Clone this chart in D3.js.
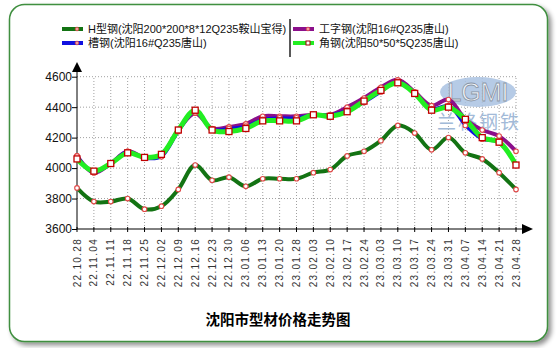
<!DOCTYPE html>
<html><head><meta charset="utf-8">
<script src="https://cdn.jsdelivr.net/npm/d3@7"></script>
<style>body{margin:0;background:#fff;}svg{display:block;}</style>
</head><body>
<svg id="c" width="557" height="348"></svg>
<script>
const categories = ["22.10.28","22.11.04","22.11.11","22.11.18","22.11.25","22.12.02","22.12.09","22.12.16","22.12.23","22.12.30","23.01.06","23.01.13","23.01.20","23.01.28","23.02.03","23.02.10","23.02.17","23.02.24","23.03.03","23.03.10","23.03.17","23.03.24","23.03.31","23.04.07","23.04.14","23.04.21","23.04.28"];
const hBeam   = [3870,3780,3780,3800,3730,3750,3860,4020,3920,3940,3880,3930,3930,3930,3970,3990,4080,4110,4180,4280,4230,4120,4200,4100,4060,3970,3860];
const iBeam   = [4080,3970,4030,4110,4070,4090,4250,4360,4260,4270,4290,4340,4340,4340,4350,4350,4400,4460,4530,4580,4500,4410,4450,4320,4250,4210,4110];
const channel = [4080,3970,4030,4110,4065,4075,4240,4370,4255,4260,4275,4320,4330,4330,4350,4350,4380,4430,4500,4570,4490,4390,4410,4280,4190,4170,4020];
const angle   = [4060,3980,4030,4100,4070,4090,4250,4380,4250,4240,4260,4310,4310,4310,4350,4340,4370,4440,4510,4560,4490,4380,4400,4320,4200,4170,4020];
const yTicks = [3600,3800,4000,4200,4400,4600];
const seriesNames = ["H型钢(沈阳200*200*8*12Q235鞍山宝得)","槽钢(沈阳16#Q235唐山)","工字钢(沈阳16#Q235唐山)","角钢(沈阳50*50*5Q235唐山)"];
const title = "沈阳市型材价格走势图";

const svg = d3.select("#c");
const font = "'Liberation Sans', Arial, 'Noto Sans CJK SC', sans-serif";

// frame with shadow
const defs = svg.append("defs");
const f = defs.append("filter").attr("id","sh").attr("x","-5%").attr("y","-5%").attr("width","115%").attr("height","115%");
f.append("feGaussianBlur").attr("in","SourceAlpha").attr("stdDeviation",2.5);
f.append("feOffset").attr("dx",3).attr("dy",3).attr("result","o");
f.append("feComponentTransfer").append("feFuncA").attr("type","linear").attr("slope",0.45);
const fm = f.append("feMerge"); fm.append("feMergeNode"); fm.append("feMergeNode").attr("in","SourceGraphic");
svg.append("rect").attr("x",9.5).attr("y",4.5).attr("width",538).attr("height",337).attr("rx",15).attr("ry",15)
  .attr("fill","#fff").attr("stroke","#3f8f3f").attr("stroke-width",1.5).attr("filter","url(#sh)");

const x = d3.scalePoint().domain(categories).range([77,516]);
const y = d3.scaleLinear().domain([3600,4600]).range([229,76.7]);

// grid
const g = svg.append("g");
g.selectAll(".vg").data(categories.slice(1)).join("line")
  .attr("x1",d=>x(d)).attr("x2",d=>x(d)).attr("y1",y(3600)).attr("y2",y(4600))
  .attr("stroke","#a0a0a0").attr("stroke-dasharray","1,2").attr("stroke-width",1);
g.selectAll(".hg").data(yTicks.slice(1)).join("line")
  .attr("x1",x(categories[0])).attr("x2",x(categories[categories.length-1])).attr("y1",d=>y(d)).attr("y2",d=>y(d))
  .attr("stroke","#a0a0a0").attr("stroke-dasharray","1,2").attr("stroke-width",1);

// watermark
const wm = svg.append("g");
wm.append("ellipse").attr("cx",478).attr("cy",92).attr("rx",38).attr("ry",15).attr("fill","#a9c2e2").attr("opacity",0.85);
wm.append("text").attr("x",478).attr("y",101).attr("text-anchor","middle").attr("font-family",font)
  .attr("font-size",25).attr("fill","#f2f4f8").attr("stroke","#8a96a6").attr("stroke-width",0.8).text("LGMI");
wm.append("text").attr("x",479).attr("y",129).attr("text-anchor","middle").attr("font-family","'Noto Sans CJK SC'")
  .attr("font-size",19).attr("fill","#a2bad8").attr("letter-spacing",2).text("兰格钢铁");

// axes
const xAxis = d3.axisBottom(x).tickSize(0).tickFormat("");
const ax = svg.append("g").attr("transform",`translate(0,${y(3600)})`).call(xAxis);
ax.select(".domain").remove();
ax.selectAll(".tk").data(categories).join("line").attr("x1",d=>x(d)).attr("x2",d=>x(d)).attr("y1",-2).attr("y2",3).attr("stroke","#000");
ax.append("line").attr("x1",77).attr("x2",524).attr("y1",0).attr("y2",0).attr("stroke","#000");
ax.append("path").attr("d","M522,-5L533,0L522,5Z").attr("fill","#000");
ax.selectAll(".xl").data(categories).join("text")
  .attr("transform",d=>`translate(${x(d)+3.5},9) rotate(-90)`)
  .attr("text-anchor","end").attr("font-family",font).attr("font-size",10).attr("letter-spacing",1.3)
  .attr("fill","#333").text(d=>d);

const yAxis = d3.axisLeft(y).tickValues(yTicks).tickSize(5).tickFormat(d3.format("d"));
const ay = svg.append("g").attr("transform","translate(77,0)").call(yAxis);
ay.select(".domain").remove();
ay.selectAll("text").attr("font-family",font).attr("font-size",12).attr("fill","#111").attr("x",-5);
ay.append("line").attr("x1",0).attr("x2",0).attr("y1",y(3600)).attr("y2",70).attr("stroke","#000");
ay.append("path").attr("d","M-5,72L0,62L5,72Z").attr("fill","#000");

// series
const line = d3.line().x((d,i)=>x(categories[i])).y(d=>y(d)).curve(d3.curveCatmullRom.alpha(0.5));
const series = [
  {v:hBeam, c:"#137313", w:4, m:"c"},
  {v:iBeam, c:"#8b0f8b", w:4, m:"c"},
  {v:channel, c:"#1010e0", w:3, m:"c"},
  {v:angle, c:"#22ee22", w:5, m:"s"}
];
series.forEach(s=>{
  svg.append("path").attr("d",line(s.v)).attr("fill","none").attr("stroke",s.c).attr("stroke-width",s.w).attr("stroke-linejoin","round");
});
series.forEach(s=>{
  const gg = svg.append("g");
  if(s.m==="c"){
    gg.selectAll("circle").data(s.v).join("circle").attr("cx",(d,i)=>x(categories[i])).attr("cy",d=>y(d)).attr("r",2.3)
      .attr("fill","#fff").attr("stroke","#e04848").attr("stroke-width",1.1);
  } else {
    gg.selectAll("rect").data(s.v).join("rect").attr("x",(d,i)=>x(categories[i])-3).attr("y",d=>y(d)-3).attr("width",6).attr("height",6)
      .attr("fill","#fff").attr("stroke","#c00000").attr("stroke-width",1.3);
  }
});

// legend
const leg = [
  {name:seriesNames[0], c:"#137313", lx:62, ly:29, m:"c"},
  {name:seriesNames[1], c:"#1010e0", lx:62, ly:43, m:"c"},
  {name:seriesNames[2], c:"#8b0f8b", lx:293, ly:29, m:"c"},
  {name:seriesNames[3], c:"#22ee22", lx:293, ly:43, m:"s"}
];
const lg = svg.append("g");
leg.forEach(l=>{
  lg.append("line").attr("x1",l.lx).attr("x2",l.lx+21).attr("y1",l.ly).attr("y2",l.ly).attr("stroke",l.c).attr("stroke-width",4);
  if(l.m==="c") lg.append("circle").attr("cx",l.lx+15).attr("cy",l.ly).attr("r",1.8).attr("fill","#f0a0a0").attr("stroke","#e04848").attr("stroke-width",0.8);
  else lg.append("rect").attr("x",l.lx+13).attr("y",l.ly-2).attr("width",4).attr("height",4).attr("fill","#fff").attr("stroke","#900").attr("stroke-width",1);
  lg.append("text").attr("x",l.lx+26).attr("y",l.ly+4).attr("font-family",font).attr("font-size",11).attr("fill","#111").text(l.name);
});
lg.append("line").attr("x1",290).attr("x2",290).attr("y1",19).attr("y2",57).attr("stroke","#222").attr("stroke-width",1.5);

// title
svg.append("text").attr("x",278).attr("y",325).attr("text-anchor","middle").attr("font-family","'Noto Sans CJK SC', sans-serif")
  .attr("font-size",14.5).attr("font-weight","bold").attr("fill","#000").text(title);
</script>
</body></html>
